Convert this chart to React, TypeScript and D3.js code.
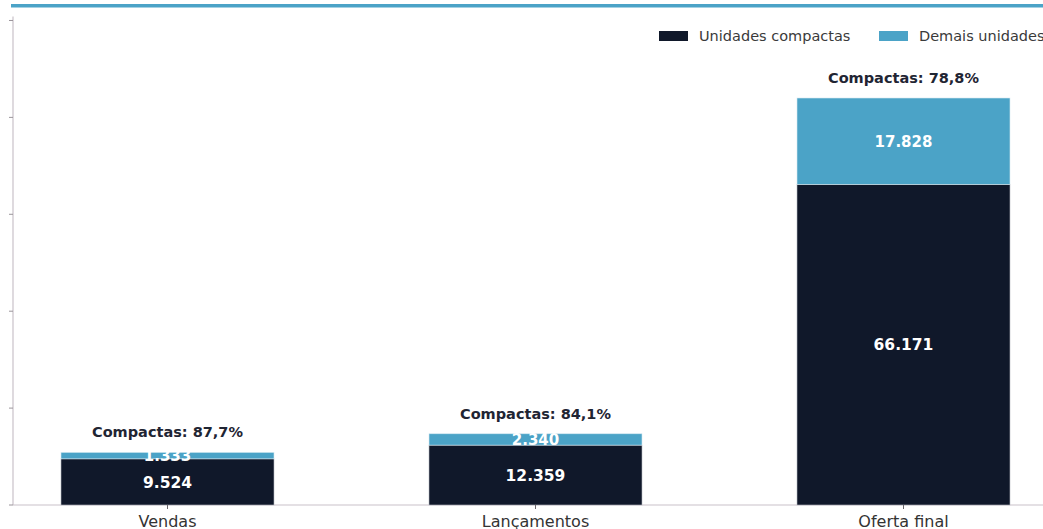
import { useRef, useEffect } from 'react';
import * as d3 from 'd3';

const categories = ['Vendas', 'Lançamentos', 'Oferta final'];
const compactas = [9524, 12359, 66171];
const demais = [1333, 2340, 17828];
const shareLabels = ['Compactas: 87,7%', 'Compactas: 84,1%', 'Compactas: 78,8%'];
const valueLabels = [
  ['9.524', '1.333'],
  ['12.359', '2.340'],
  ['66.171', '17.828'],
];
const seriesNames = ['Unidades compactas', 'Demais unidades'];
const yTicks = [0, 20000, 40000, 60000, 80000, 100000];

const DARK = '#10182a';
const BLUE = '#4ba3c7';
const FONT = '"DejaVu Sans", sans-serif';

export default function App() {
  const svgRef = useRef<SVGSVGElement>(null);
  const width = 1043;
  const height = 529;

  useEffect(() => {
    if (!svgRef.current) return;
    const svg = d3.select(svgRef.current);
    svg.selectAll('*').remove();

    const axisLeftX = 13;
    const baseY = 505;
    const totals = compactas.map((c, i) => c + demais[i]);

    const x = d3.scalePoint<string>().domain(categories).range([167.5, 903.5]);
    const y = d3.scaleLinear()
      .domain([0, (d3.max(totals) as number) * 1.2])
      .range([baseY, 16.6]);
    const barW = 213;

    // top accent line
    svg.append('rect')
      .attr('x', 11).attr('y', 4)
      .attr('width', width - 11).attr('height', 3.5)
      .attr('fill', BLUE);

    // left axis
    svg.append('line')
      .attr('x1', axisLeftX).attr('x2', axisLeftX)
      .attr('y1', y.range()[1]).attr('y2', baseY)
      .attr('stroke', '#c9c2c9').attr('stroke-width', 1.2);
    yTicks.forEach(t => {
      svg.append('line')
        .attr('x1', axisLeftX - 4).attr('x2', axisLeftX)
        .attr('y1', y(t)).attr('y2', y(t))
        .attr('stroke', '#9a949a').attr('stroke-width', 1);
    });

    // bottom axis
    svg.append('line')
      .attr('x1', axisLeftX).attr('x2', width)
      .attr('y1', baseY).attr('y2', baseY)
      .attr('stroke', '#c9c2c9').attr('stroke-width', 1.2);

    const g = svg.append('g');

    categories.forEach((cat, i) => {
      const cx = x(cat) as number;
      const yC = y(compactas[i]);
      const yT = y(totals[i]);

      g.append('rect')
        .attr('x', cx - barW / 2).attr('y', yC)
        .attr('width', barW).attr('height', baseY - yC)
        .attr('fill', DARK)
        .attr('stroke', '#b7bcc2').attr('stroke-width', 0.6);

      g.append('rect')
        .attr('x', cx - barW / 2).attr('y', yT)
        .attr('width', barW).attr('height', yC - yT)
        .attr('fill', BLUE)
        .attr('stroke', '#d6e9f2').attr('stroke-width', 0.6);

      // value labels
      g.append('text')
        .attr('x', cx).attr('y', (yC + baseY) / 2)
        .attr('dy', '0.36em')
        .attr('text-anchor', 'middle')
        .attr('font-family', FONT).attr('font-weight', 'bold').attr('font-size', 15.5)
        .attr('fill', '#ffffff')
        .text(valueLabels[i][0]);

      g.append('text')
        .attr('x', cx).attr('y', (yT + yC) / 2)
        .attr('dy', '0.36em')
        .attr('text-anchor', 'middle')
        .attr('font-family', FONT).attr('font-weight', 'bold').attr('font-size', 15)
        .attr('fill', '#ffffff')
        .text(valueLabels[i][1]);

      // share label
      g.append('text')
        .attr('x', cx).attr('y', yT - 15)
        .attr('text-anchor', 'middle')
        .attr('font-family', FONT).attr('font-weight', 'bold').attr('font-size', 14.5)
        .attr('fill', '#1f2533')
        .text(shareLabels[i]);

      // tick + category label
      svg.append('line')
        .attr('x1', cx).attr('x2', cx)
        .attr('y1', baseY).attr('y2', baseY + 4)
        .attr('stroke', '#6b666b').attr('stroke-width', 1);
      svg.append('text')
        .attr('x', cx).attr('y', baseY + 22)
        .attr('text-anchor', 'middle')
        .attr('font-family', FONT).attr('font-size', 16)
        .attr('fill', '#333333')
        .text(cat);
    });

    // legend
    const legendItems = [
      { name: seriesNames[0], color: DARK, x: 659 },
      { name: seriesNames[1], color: BLUE, x: 879 },
    ];
    legendItems.forEach(item => {
      svg.append('rect')
        .attr('x', item.x).attr('y', 31)
        .attr('width', 29).attr('height', 10)
        .attr('fill', item.color);
      svg.append('text')
        .attr('x', item.x + 40).attr('y', 41)
        .attr('font-family', FONT).attr('font-size', 14.5)
        .attr('fill', '#3a3a3a')
        .text(item.name);
    });
  }, []);

  return (
    <svg
      ref={svgRef}
      width={width}
      height={height}
      style={{ position: 'absolute', left: 0, top: 0, background: '#ffffff' }}
    />
  );
}
